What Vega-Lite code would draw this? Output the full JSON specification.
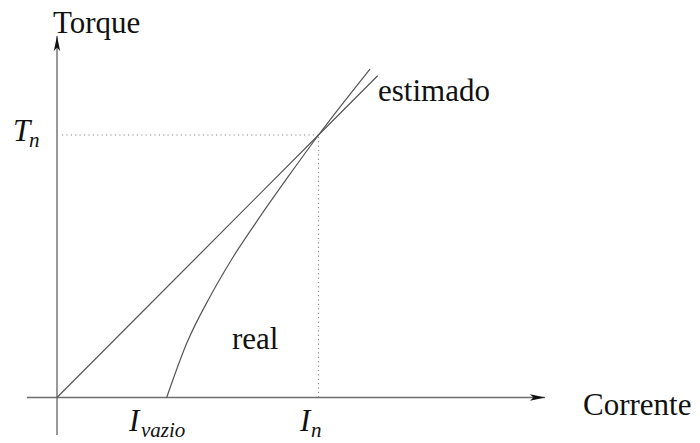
{
  "$schema": "https://vega.github.io/schema/vega-lite/v6.json",
  "width": 700,
  "height": 443,
  "autosize": "none",
  "padding": 0,
  "background": "white",
  "config": {"view": {"stroke": null}},
  "datasets": {
    "axes": [
      {"name": "corrente", "x": -0.1147, "y": 0, "x2": 1.8662, "y2": 0},
      {"name": "torque", "x": 0, "y": -0.1429, "x2": 0, "y2": 1.3771}
    ],
    "guides": [
      {"name": "Tn", "x": 0.0191, "y": 1.0, "x2": 1.0, "y2": 1.0},
      {"name": "In", "x": 1.0, "y": 0, "x2": 1.0, "y2": 1.0}
    ],
    "arrows": [
      {"name": "corrente", "x": 1.8375, "y": 0, "angle": 0},
      {"name": "torque", "x": 0, "y": 1.3486, "angle": 270}
    ],
    "curves": [
      {"series": "estimado", "i": 0, "corrente": 0, "torque": 0},
      {"series": "estimado", "i": 1, "corrente": 1.0, "torque": 1.0},
      {"series": "estimado", "i": 2, "corrente": 1.2264, "torque": 1.2259},
      {"series": "real", "i": 0, "corrente": 0.4195, "torque": 0},
      {"series": "real", "i": 1, "corrente": 0.496, "torque": 0.2065},
      {"series": "real", "i": 2, "corrente": 0.5851, "torque": 0.384},
      {"series": "real", "i": 3, "corrente": 0.6742, "torque": 0.5364},
      {"series": "real", "i": 4, "corrente": 0.7763, "torque": 0.6888},
      {"series": "real", "i": 5, "corrente": 0.884, "torque": 0.8411},
      {"series": "real", "i": 6, "corrente": 1.0, "torque": 1.0},
      {"series": "real", "i": 7, "corrente": 1.1969, "torque": 1.2514}
    ],
    "roman": [
      {"text": "Torque", "x": -0.0153, "y": 1.3886},
      {"text": "Corrente", "x": 2.0115, "y": -0.0667},
      {"text": "estimado", "x": 1.2275, "y": 1.1295},
      {"text": "real", "x": 0.6692, "y": 0.1848}
    ],
    "mathBig": [
      {"text": "T", "x": -0.1683, "y": 0.9783},
      {"text": "I", "x": 0.2753, "y": -0.1276},
      {"text": "I", "x": 0.9293, "y": -0.1276}
    ],
    "mathSub": [
      {"text": "n", "x": -0.1071, "y": 0.9554},
      {"text": "vazio", "x": 0.3212, "y": -0.1505},
      {"text": "n", "x": 0.9713, "y": -0.1505}
    ]
  },
  "encoding": {
    "x": {"field": "x", "type": "quantitative", "scale": {"domain": [-0.21797, 2.45889], "nice": false, "zero": false}, "axis": null},
    "y": {"field": "y", "type": "quantitative", "scale": {"domain": [-0.17333, 1.51429], "nice": false, "zero": false}, "axis": null}
  },
  "layer": [
    {
      "data": {"name": "guides"},
      "mark": {"type": "rule", "color": "#8a8a8a", "strokeWidth": 1.2, "strokeDash": [1.2, 3.2]},
      "encoding": {"x2": {"field": "x2"}, "y2": {"field": "y2"}}
    },
    {
      "data": {"name": "axes"},
      "mark": {"type": "rule", "color": "#6e6e6e", "strokeWidth": 1.4},
      "encoding": {"x2": {"field": "x2"}, "y2": {"field": "y2"}}
    },
    {
      "data": {"name": "curves"},
      "mark": {"type": "line", "color": "#555555", "strokeWidth": 1.2, "interpolate": "monotone"},
      "encoding": {
        "x": {"field": "corrente", "type": "quantitative"},
        "y": {"field": "torque", "type": "quantitative"},
        "detail": {"field": "series"},
        "order": {"field": "i", "type": "quantitative"}
      }
    },
    {
      "data": {"name": "arrows"},
      "mark": {"type": "point", "filled": true, "color": "#111111", "opacity": 1, "shape": "M1,0 L-1,-0.42 L-0.55,0 L-1,0.42 Z", "size": 225},
      "encoding": {"angle": {"field": "angle", "type": "quantitative", "scale": null}}
    },
    {
      "data": {"name": "roman"},
      "mark": {"type": "text", "font": "Liberation Serif", "fontSize": 31, "align": "left", "baseline": "alphabetic", "color": "#111111"},
      "encoding": {"text": {"field": "text"}}
    },
    {
      "data": {"name": "mathBig"},
      "mark": {"type": "text", "font": "Liberation Serif", "fontStyle": "italic", "fontSize": 31, "align": "left", "baseline": "alphabetic", "color": "#111111"},
      "encoding": {"text": {"field": "text"}}
    },
    {
      "data": {"name": "mathSub"},
      "mark": {"type": "text", "font": "Liberation Serif", "fontStyle": "italic", "fontSize": 21, "align": "left", "baseline": "alphabetic", "color": "#111111"},
      "encoding": {"text": {"field": "text"}}
    }
  ]
}
